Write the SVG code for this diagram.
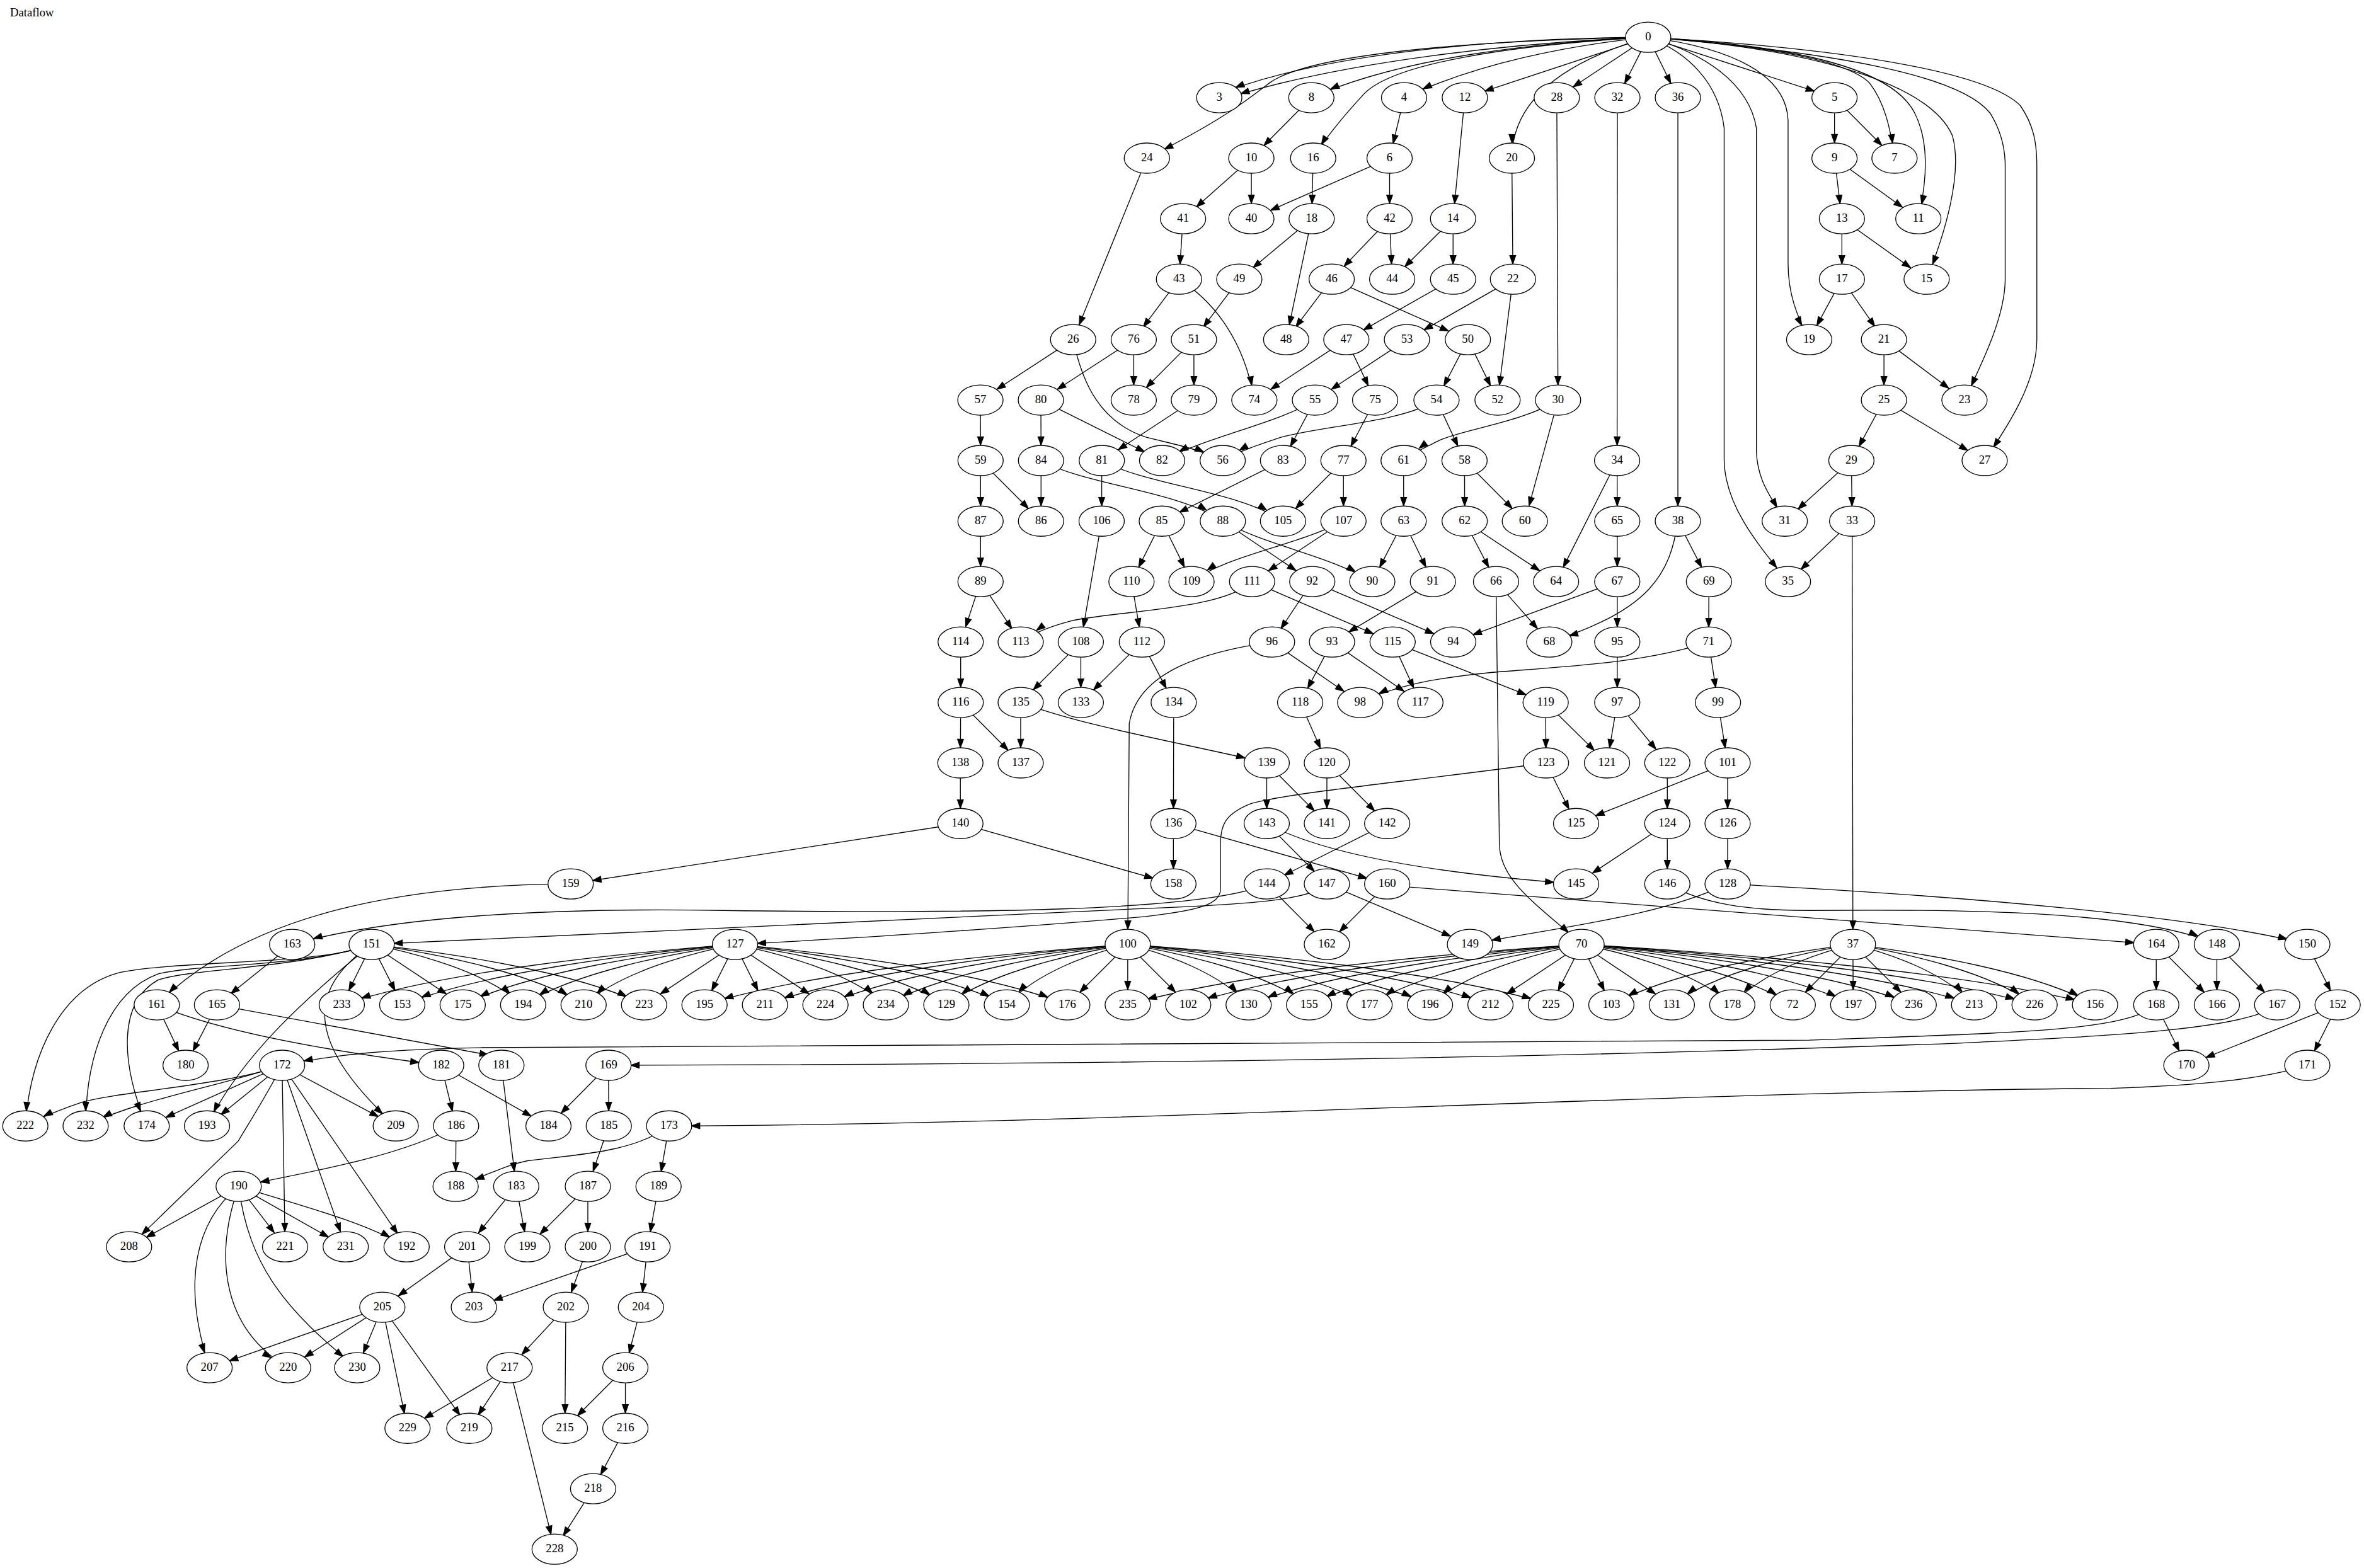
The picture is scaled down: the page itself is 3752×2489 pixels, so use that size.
<svg xmlns="http://www.w3.org/2000/svg" width="3752" height="2489" viewBox="0 0 3752 2489">
<style>
.e path{fill:none;stroke:#000;stroke-width:.557}
marker path{fill:#000;stroke:#000;stroke-width:.557}
.n ellipse{fill:#fff;stroke:#000;stroke-width:.557}
text{font-family:"Liberation Serif","Times New Roman",serif;font-size:7.8px;fill:#000}
.n text{text-anchor:middle}
.a0{marker-end:url(#a0)}.a1{marker-end:url(#a1)}.a2{marker-end:url(#a2)}.a3{marker-end:url(#a3)}.a4{marker-end:url(#a4)}.a5{marker-end:url(#a5)}
</style>
<defs>
<marker id="a0" markerUnits="userSpaceOnUse" viewBox="-24 -4 24 8" markerWidth="24" markerHeight="8" orient="auto"><path d="M-10.1,0L-15.67,-1.95L-15.67,1.95Z"/></marker>
<marker id="a1" markerUnits="userSpaceOnUse" viewBox="-24 -4 24 8" markerWidth="24" markerHeight="8" orient="auto"><path d="M-10.7,0L-16.27,-1.95L-16.27,1.95Z"/></marker>
<marker id="a2" markerUnits="userSpaceOnUse" viewBox="-24 -4 24 8" markerWidth="24" markerHeight="8" orient="auto"><path d="M-11.9,0L-17.47,-1.95L-17.47,1.95Z"/></marker>
<marker id="a3" markerUnits="userSpaceOnUse" viewBox="-24 -4 24 8" markerWidth="24" markerHeight="8" orient="auto"><path d="M-13.1,0L-18.67,-1.95L-18.67,1.95Z"/></marker>
<marker id="a4" markerUnits="userSpaceOnUse" viewBox="-24 -4 24 8" markerWidth="24" markerHeight="8" orient="auto"><path d="M-14,0L-19.57,-1.95L-19.57,1.95Z"/></marker>
<marker id="a5" markerUnits="userSpaceOnUse" viewBox="-24 -4 24 8" markerWidth="24" markerHeight="8" orient="auto"><path d="M-14.8,0L-20.37,-1.95L-20.37,1.95Z"/></marker>
</defs>
<rect width="3752" height="2489" fill="#fff"/>
<g transform="scale(2.39286)">
<text id="title" x="6.7" y="10.9">Dataflow</text>
<g id="edges" class="e">
<path class="a4" d="M1093.2,24.7C1010,25 880,33 806.7,63.3"/>
<path class="a4" d="M1093.2,24.7C1010,28 890,40 809.7,66.5"/>
<path class="a3" d="M1093.2,24.7C980,27 870,35 842,55C825,68 810,80 760.7,104.9"/>
<path class="a4" d="M1093.2,24.7C1020,28 930,38 869.8,64.8"/>
<path class="a1" d="M1093.2,24.7C1000,30 925,42 905,62C892,76 880,90 871,104.9"/>
<path class="a4" d="M1093.2,24.7C1040,30 980,42 931.3,64.8"/>
<path class="a4" d="M1093.2,24.7L971.6,64.8"/>
<path class="a0" d="M1093.2,24.7C1040,40 1003,65 1002.8,104.9"/>
<path class="a3" d="M1093.2,24.7L1032.6,64.8"/>
<path class="a1" d="M1093.2,24.7L1072.8,64.8"/>
<path class="a1" d="M1093.2,24.7L1112.9,64.8"/>
<path class="a4" d="M1093.2,24.7L1216.8,64.8"/>
<path class="a0" d="M1093.2,24.7C1170,30 1225,40 1240,55C1250,68 1254,85 1256.6,104.9"/>
<path class="a0" d="M1093.2,24.7C1190,30 1255,45 1270,75C1280,95 1278,120 1272.4,145.1"/>
<path class="a1" d="M1093.2,24.7C1200,32 1280,55 1295,90C1302,115 1290,155 1277.9,185.2"/>
<path class="a1" d="M1093.2,24.7C1150,32 1185,50 1186,80L1186,175C1186,195 1192,210 1200,225.3"/>
<path class="a1" d="M1093.2,24.7C1220,35 1300,50 1320,75C1328,88 1330,100 1330,110L1330,185C1330,210 1315,240 1303,265.4"/>
<path class="a1" d="M1093.2,24.7C1240,33 1320,50 1340,70C1349,83 1351,95 1351,110L1351,225C1351,255 1330,285 1316.4,305.5"/>
<path class="a1" d="M1093.2,24.7C1130,35 1160,55 1165,85L1165,300C1166,320 1175,330 1183.8,345.7"/>
<path class="a2" d="M1093.2,24.7C1120,35 1140,55 1143.6,85L1143.6,305C1144,335 1165,360 1185.9,385.8"/>
<path class="a2" d="M869.8,64.8L830,104.9"/>
<path class="a0" d="M931.3,64.8L921.7,104.9"/>
<path class="a0" d="M971.6,64.8L963.8,145.1"/>
<path class="a0" d="M1032.6,64.8L1033.4,265.4"/>
<path class="a0" d="M1072.8,64.8L1072.6,305.5"/>
<path class="a0" d="M1112.9,64.8L1112.9,345.7"/>
<path class="a0" d="M1216.8,64.8L1216.8,104.9"/>
<path class="a2" d="M1216.8,64.8L1256.6,104.9"/>
<path class="a1" d="M760.7,104.9L711.8,225.3"/>
<path class="a2" d="M830,104.9L784.7,145.1"/>
<path class="a0" d="M830,104.9L830,145.1"/>
<path class="a0" d="M871,104.9L870,145.1"/>
<path class="a4" d="M921.7,104.9L830,145.1"/>
<path class="a0" d="M921.7,104.9L921.7,145.1"/>
<path class="a0" d="M1002.8,104.9L1003.5,185.2"/>
<path class="a0" d="M1216.8,104.9L1221.7,145.1"/>
<path class="a3" d="M1216.8,104.9L1272.4,145.1"/>
<path class="a0" d="M784.7,145.1L782,185.2"/>
<path class="a2" d="M870,145.1L822,185.2"/>
<path class="a0" d="M870,145.1L853.1,225.3"/>
<path class="a2" d="M921.7,145.1L883.3,185.2"/>
<path class="a0" d="M921.7,145.1L923.4,185.2"/>
<path class="a2" d="M963.8,145.1L923.4,185.2"/>
<path class="a0" d="M963.8,145.1L963.8,185.2"/>
<path class="a0" d="M1221.7,145.1L1221.7,185.2"/>
<path class="a3" d="M1221.7,145.1L1277.9,185.2"/>
<path class="a1" d="M782,185.2L752,225.3"/>
<path class="a0" d="M782,185.2C805,200 825,225 832,265.4"/>
<path class="a1" d="M822,185.2L791.9,225.3"/>
<path class="a1" d="M883.3,185.2L853.1,225.3"/>
<path class="a4" d="M883.3,185.2L973.6,225.3"/>
<path class="a3" d="M963.8,185.2L893,225.3"/>
<path class="a3" d="M1003.5,185.2L933.2,225.3"/>
<path class="a0" d="M1003.5,185.2L993.3,265.4"/>
<path class="a1" d="M1221.7,185.2L1200,225.3"/>
<path class="a1" d="M1221.7,185.2L1249.6,225.3"/>
<path class="a3" d="M711.8,225.3L650.3,265.4"/>
<path class="a4" d="M711.8,225.3C718,255 730,280 760,290C775,294 790,296 811,305.5"/>
<path class="a3" d="M752,225.3L690.4,265.4"/>
<path class="a0" d="M752,225.3L752,265.4"/>
<path class="a2" d="M791.9,225.3L752,265.4"/>
<path class="a0" d="M791.9,225.3L791.9,265.4"/>
<path class="a3" d="M893,225.3L832,265.4"/>
<path class="a1" d="M893,225.3L912.1,265.4"/>
<path class="a3" d="M933.2,225.3L872.2,265.4"/>
<path class="a1" d="M973.6,225.3L952.8,265.4"/>
<path class="a1" d="M973.6,225.3L993.3,265.4"/>
<path class="a3" d="M1249.6,225.3L1303,265.4"/>
<path class="a0" d="M1249.6,225.3L1249.6,265.4"/>
<path class="a0" d="M650.3,265.4L650.4,305.5"/>
<path class="a0" d="M690.4,265.4L690.5,305.5"/>
<path class="a3" d="M690.4,265.4L770.8,305.5"/>
<path class="a3" d="M791.9,265.4L730.8,305.5"/>
<path class="a3" d="M872.2,265.4C850,280 800,290 770.8,305.5"/>
<path class="a1" d="M872.2,265.4L851,305.5"/>
<path class="a1" d="M912.1,265.4L891.1,305.5"/>
<path class="a3" d="M952.8,265.4C930,280 880,282 850,290C835,295 820,300 811,305.5"/>
<path class="a1" d="M952.8,265.4L971.4,305.5"/>
<path class="a3" d="M1033.4,265.4C1010,280 970,285 955,292C945,297 938,300 931,305.5"/>
<path class="a1" d="M1033.4,265.4L1011.4,345.7"/>
<path class="a3" d="M1249.6,265.4L1316.4,305.5"/>
<path class="a1" d="M1249.6,265.4L1228,305.5"/>
<path class="a0" d="M650.4,305.5L650.4,345.7"/>
<path class="a2" d="M650.4,305.5L690.5,345.7"/>
<path class="a0" d="M690.5,305.5L690.5,345.7"/>
<path class="a3" d="M690.5,305.5C720,322 780,325 811.1,345.7"/>
<path class="a0" d="M730.8,305.5L730.7,345.7"/>
<path class="a3" d="M730.8,305.5C760,322 820,325 851,345.7"/>
<path class="a3" d="M851,305.5L770.6,345.7"/>
<path class="a2" d="M891.1,305.5L851,345.7"/>
<path class="a0" d="M891.1,305.5L891.1,345.7"/>
<path class="a0" d="M931,305.5L931,345.7"/>
<path class="a0" d="M971.4,305.5L971.5,345.7"/>
<path class="a2" d="M971.4,305.5L1011.4,345.7"/>
<path class="a0" d="M1072.6,305.5L1072.7,345.7"/>
<path class="a1" d="M1072.6,305.5L1032.1,385.8"/>
<path class="a2" d="M1228,305.5L1183.8,345.7"/>
<path class="a0" d="M1228,305.5L1228.5,345.7"/>
<path class="a0" d="M650.4,345.7L650.4,385.8"/>
<path class="a0" d="M730.7,345.7L716.9,425.9"/>
<path class="a1" d="M770.6,345.7L750.5,385.8"/>
<path class="a1" d="M770.6,345.7L790.3,385.8"/>
<path class="a3" d="M811.1,345.7L870.4,385.8"/>
<path class="a3" d="M811.1,345.7C840,362 880,368 910.2,385.8"/>
<path class="a3" d="M891.1,345.7C860,362 815,368 790.3,385.8"/>
<path class="a3" d="M891.1,345.7L830.5,385.8"/>
<path class="a1" d="M931,345.7L910.2,385.8"/>
<path class="a1" d="M931,345.7L950.4,385.8"/>
<path class="a1" d="M971.5,345.7L992.3,385.8"/>
<path class="a3" d="M971.5,345.7L1032.1,385.8"/>
<path class="a0" d="M1072.7,345.7L1072.7,385.8"/>
<path class="a1" d="M1112.9,345.7L1133.5,385.8"/>
<path class="a4" d="M1112.9,345.7C1108,380 1095,405 1027.6,425.9"/>
<path class="a2" d="M1228.5,345.7L1185.9,385.8"/>
<path class="a0" d="M1228.5,345.7L1229,626.5"/>
<path class="a1" d="M650.4,385.8L637.2,425.9"/>
<path class="a1" d="M650.4,385.8L677,425.9"/>
<path class="a0" d="M750.5,385.8L757.4,425.9"/>
<path class="a3" d="M830.5,385.8C810,405 740,405 710,412C695,416 685,420 677,425.9"/>
<path class="a4" d="M830.5,385.8L923.7,425.9"/>
<path class="a1" d="M870.4,385.8L843.7,425.9"/>
<path class="a4" d="M870.4,385.8L963.9,425.9"/>
<path class="a3" d="M950.4,385.8L883.5,425.9"/>
<path class="a2" d="M992.3,385.8L1027.6,425.9"/>
<path class="a2" d="M992.3,385.8L994.5,560C995,585 1020,600 1049,626.5"/>
<path class="a4" d="M1072.7,385.8L963.9,425.9"/>
<path class="a0" d="M1072.7,385.8L1072.7,425.9"/>
<path class="a0" d="M1133.5,385.8L1133.3,425.9"/>
<path class="a0" d="M637.2,425.9L637.2,466"/>
<path class="a2" d="M716.9,425.9L677,466"/>
<path class="a0" d="M716.9,425.9L716.9,466"/>
<path class="a2" d="M757.4,425.9L716.9,466"/>
<path class="a1" d="M757.4,425.9L778.5,466"/>
<path class="a3" d="M843.7,425.9L902.2,466"/>
<path class="a0" d="M843.7,425.9C800,432 755,445 749,480L748,626.5"/>
<path class="a1" d="M883.5,425.9L862.4,466"/>
<path class="a3" d="M883.5,425.9L942.1,466"/>
<path class="a1" d="M923.7,425.9L942.1,466"/>
<path class="a4" d="M923.7,425.9L1025.2,466"/>
<path class="a0" d="M1072.7,425.9L1072.7,466"/>
<path class="a4" d="M1133.3,425.9C1090,440 1040,442 990,446C950,450 925,455 902.2,466"/>
<path class="a0" d="M1133.3,425.9L1139.5,466"/>
<path class="a0" d="M637.2,466L637,506.1"/>
<path class="a2" d="M637.2,466L677,506.1"/>
<path class="a0" d="M677,466L677,506.1"/>
<path class="a5" d="M677,466C720,482 780,492 840.2,506.1"/>
<path class="a0" d="M778.5,466L778.3,546.3"/>
<path class="a1" d="M862.4,466L880.1,506.1"/>
<path class="a0" d="M1025.2,466L1025.4,506.1"/>
<path class="a2" d="M1025.2,466L1065.9,506.1"/>
<path class="a0" d="M1072.7,466L1065.9,506.1"/>
<path class="a2" d="M1072.7,466L1105.9,506.1"/>
<path class="a0" d="M1139.5,466L1145.9,506.1"/>
<path class="a0" d="M637,506.1L637,546.3"/>
<path class="a0" d="M840.2,506.1L840.2,546.3"/>
<path class="a2" d="M840.2,506.1L880.1,546.3"/>
<path class="a0" d="M880.1,506.1L880.1,546.3"/>
<path class="a2" d="M880.1,506.1L920.1,546.3"/>
<path class="a1" d="M1025.4,506.1L1045.4,546.3"/>
<path class="a5" d="M1025.4,506.1C940,518 860,525 830,533C812,540 809.5,548 809.5,560L809.5,590C809.5,600 795,604 760,608C680,615 560,623 487.5,626.5"/>
<path class="a0" d="M1105.9,506.1L1105.9,546.3"/>
<path class="a4" d="M1145.9,506.1L1045.4,546.3"/>
<path class="a0" d="M1145.9,506.1L1145.9,546.3"/>
<path class="a5" d="M637,546.3L378.5,586.4"/>
<path class="a4" d="M637,546.3L778.3,586.4"/>
<path class="a0" d="M778.3,546.3L778.3,586.4"/>
<path class="a4" d="M778.3,546.3L920.1,586.4"/>
<path class="a2" d="M840.2,546.3L880.1,586.4"/>
<path class="a5" d="M840.2,546.3C880,568 960,580 1045.4,586.4"/>
<path class="a3" d="M920.1,546.3L840.2,586.4"/>
<path class="a3" d="M1105.9,546.3L1045.4,586.4"/>
<path class="a0" d="M1105.9,546.3L1105.9,586.4"/>
<path class="a0" d="M1145.9,546.3L1145.9,586.4"/>
<path class="a2" d="M378.5,586.4C270,587 165,605 104,666.6"/>
<path class="a5" d="M840.2,586.4C800,605 640,606 480,604C360,602 260,608 193.8,626.5"/>
<path class="a2" d="M840.2,586.4L880.1,626.5"/>
<path class="a4" d="M880.1,586.4L975,626.5"/>
<path class="a5" d="M880.1,586.4C870,597 830,600 752,603L246.5,626.5"/>
<path class="a2" d="M920.1,586.4L880.1,626.5"/>
<path class="a5" d="M920.1,586.4L935,588.5L1430.2,626.5"/>
<path class="a4" d="M1105.9,586.4C1130,600 1160,604 1200,604C1300,603 1420,604 1470.4,626.5"/>
<path class="a5" d="M1145.9,586.4C1100,608 1040,614 975,626.5"/>
<path class="a4" d="M1145.9,586.4C1300,594 1460,608 1530.4,626.5"/>
<path class="a2" d="M193.8,626.5L143.9,666.6"/>
<path class="a1" d="M246.5,626.5L226.7,666.6"/>
<path class="a1" d="M246.5,626.5L266.8,666.6"/>
<path class="a3" d="M246.5,626.5L306.9,666.6"/>
<path class="a2" d="M246.5,626.5C276.7,632.5 321.9,644.6 347,666.6"/>
<path class="a3" d="M246.5,626.5C288.7,632.5 351.9,644.6 387.1,666.6"/>
<path class="a3" d="M246.5,626.5C300.7,632.5 382,644.6 427.2,666.6"/>
<path class="a0" d="M246.5,626.5C215,640 120,637 80,645C40,655 20,700 16.8,746.9"/>
<path class="a0" d="M246.5,626.5C200,642 135,639 105,646C72,658 57,700 56.8,746.9"/>
<path class="a1" d="M246.5,626.5C195,643 130,642 105,650C78,665 80,705 97.3,746.9"/>
<path class="a1" d="M246.5,626.5C205,660 160,700 137.3,746.9"/>
<path class="a2" d="M246.5,626.5C205,655 200,690 262.5,746.9"/>
<path class="a4" d="M487.5,626.5C409.3,632.5 291.9,644.6 226.7,666.6"/>
<path class="a4" d="M487.5,626.5C421.3,632.5 322,644.6 266.8,666.6"/>
<path class="a3" d="M487.5,626.5C433.3,632.5 352.1,644.6 306.9,666.6"/>
<path class="a3" d="M487.5,626.5C445.4,632.5 382.1,644.6 347,666.6"/>
<path class="a2" d="M487.5,626.5C457.4,632.5 412.2,644.6 387.1,666.6"/>
<path class="a3" d="M487.5,626.5L427.2,666.6"/>
<path class="a1" d="M487.5,626.5L467.3,666.6"/>
<path class="a1" d="M487.5,626.5L507.4,666.6"/>
<path class="a3" d="M487.5,626.5L547.5,666.6"/>
<path class="a2" d="M487.5,626.5C517.5,632.5 562.6,644.6 587.6,666.6"/>
<path class="a3" d="M487.5,626.5C529.6,632.5 592.7,644.6 627.7,666.6"/>
<path class="a3" d="M487.5,626.5C541.6,632.5 622.7,644.6 667.8,666.6"/>
<path class="a4" d="M487.5,626.5C553.6,632.5 652.8,644.6 707.9,666.6"/>
<path class="a4" d="M748,626.5C663.8,632.5 537.5,644.6 467.3,666.6"/>
<path class="a4" d="M748,626.5C675.8,632.5 567.6,644.6 507.4,666.6"/>
<path class="a4" d="M748,626.5C687.9,632.5 597.6,644.6 547.5,666.6"/>
<path class="a3" d="M748,626.5C699.9,632.5 627.7,644.6 587.6,666.6"/>
<path class="a3" d="M748,626.5C711.9,632.5 657.8,644.6 627.7,666.6"/>
<path class="a2" d="M748,626.5C723.9,632.5 687.9,644.6 667.8,666.6"/>
<path class="a2" d="M748,626.5L707.9,666.6"/>
<path class="a0" d="M748,626.5L748,666.6"/>
<path class="a2" d="M748,626.5L788.1,666.6"/>
<path class="a2" d="M748,626.5C772.1,632.5 808.2,644.6 828.2,666.6"/>
<path class="a3" d="M748,626.5C784.1,632.5 838.2,644.6 868.3,666.6"/>
<path class="a3" d="M748,626.5C796.1,632.5 868.3,644.6 908.4,666.6"/>
<path class="a4" d="M748,626.5C808.2,632.5 898.4,644.6 948.5,666.6"/>
<path class="a4" d="M748,626.5C820.2,632.5 928.5,644.6 988.6,666.6"/>
<path class="a4" d="M748,626.5C832.2,632.5 958.5,644.6 1028.7,666.6"/>
<path class="a4" d="M1049,626.5C958.7,632.5 823.3,644.6 748,666.6"/>
<path class="a4" d="M1049,626.5C970.7,632.5 853.3,644.6 788.1,666.6"/>
<path class="a4" d="M1049,626.5C982.8,632.5 883.4,644.6 828.2,666.6"/>
<path class="a3" d="M1049,626.5C994.8,632.5 913.5,644.6 868.3,666.6"/>
<path class="a3" d="M1049,626.5C1006.8,632.5 943.6,644.6 908.4,666.6"/>
<path class="a2" d="M1049,626.5C1018.9,632.5 973.6,644.6 948.5,666.6"/>
<path class="a3" d="M1049,626.5L988.6,666.6"/>
<path class="a1" d="M1049,626.5L1028.7,666.6"/>
<path class="a1" d="M1049,626.5L1068.8,666.6"/>
<path class="a3" d="M1049,626.5L1108.9,666.6"/>
<path class="a2" d="M1049,626.5C1079,632.5 1124,644.6 1149,666.6"/>
<path class="a3" d="M1049,626.5C1091,632.5 1154.1,644.6 1189.1,666.6"/>
<path class="a3" d="M1049,626.5C1103.1,632.5 1184.2,644.6 1229.2,666.6"/>
<path class="a4" d="M1049,626.5C1115.1,632.5 1214.2,644.6 1269.3,666.6"/>
<path class="a4" d="M1049,626.5C1127.1,632.5 1244.3,644.6 1309.4,666.6"/>
<path class="a4" d="M1049,626.5C1139.2,632.5 1274.4,644.6 1349.5,666.6"/>
<path class="a4" d="M1049,626.5C1151.2,632.5 1304.4,644.6 1389.6,666.6"/>
<path class="a3" d="M1229,626.5C1180.9,632.5 1108.9,644.6 1068.8,666.6"/>
<path class="a3" d="M1229,626.5C1193,632.5 1138.9,644.6 1108.9,666.6"/>
<path class="a2" d="M1229,626.5C1205,632.5 1169,644.6 1149,666.6"/>
<path class="a2" d="M1229,626.5L1189.1,666.6"/>
<path class="a0" d="M1229,626.5L1229.2,666.6"/>
<path class="a2" d="M1229,626.5L1269.3,666.6"/>
<path class="a2" d="M1229,626.5C1253.1,632.5 1289.3,644.6 1309.4,666.6"/>
<path class="a3" d="M1229,626.5C1265.2,632.5 1319.4,644.6 1349.5,666.6"/>
<path class="a3" d="M1229,626.5C1277.2,632.5 1349.5,644.6 1389.6,666.6"/>
<path class="a0" d="M1430.2,626.5L1430.2,666.6"/>
<path class="a2" d="M1430.2,626.5L1470.4,666.6"/>
<path class="a0" d="M1470.4,626.5L1470.4,666.6"/>
<path class="a2" d="M1470.4,626.5L1510.4,666.6"/>
<path class="a1" d="M1530.4,626.5L1550.5,666.6"/>
<path class="a1" d="M1430.2,666.6L1450.2,706.7"/>
<path class="a5" d="M1430.2,666.6C1410,684 1340,685 1200,690L320,695C260,696 225,699 187.1,706.7"/>
<path class="a5" d="M1510.4,666.6C1490,684 1380,688 1300,692C1000,703 700,706 403.6,706.7"/>
<path class="a4" d="M1550.5,666.6L1450.2,706.7"/>
<path class="a1" d="M1550.5,666.6L1530.4,706.7"/>
<path class="a5" d="M1530.4,706.7C1500,716 1460,720 1400,722C1100,724 750,746 443.8,746.9"/>
<path class="a1" d="M104,666.6L123.1,706.7"/>
<path class="a1" d="M143.9,666.6L123.1,706.7"/>
<path class="a5" d="M104,666.6C140,682 200,695 292.6,706.7"/>
<path class="a5" d="M143.9,666.6L338.4,702.5"/>
<path class="a4" d="M187.1,706.7C150,720 80,724 55,731C40,736 28,741 16.8,746.9"/>
<path class="a3" d="M187.1,706.7C140,722 90,730 56.8,746.9"/>
<path class="a4" d="M187.1,706.7L97.3,746.9"/>
<path class="a2" d="M187.1,706.7L137.3,746.9"/>
<path class="a3" d="M187.1,706.7L262.5,746.9"/>
<path class="a2" d="M187.1,706.7C175,730 165,745 158,757L85.6,827.1"/>
<path class="a0" d="M187.1,706.7L189.1,827.1"/>
<path class="a1" d="M187.1,706.7L229.3,827.1"/>
<path class="a1" d="M187.1,706.7L269.7,827.1"/>
<path class="a0" d="M292.6,706.7L302.5,746.9"/>
<path class="a3" d="M292.6,706.7L363.8,746.9"/>
<path class="a0" d="M332.6,706.7L342.4,787"/>
<path class="a2" d="M403.6,706.7L363.8,746.9"/>
<path class="a0" d="M403.6,706.7L403.8,746.9"/>
<path class="a0" d="M302.5,746.9L302.2,787"/>
<path class="a5" d="M302.5,746.9C270,765 220,775 158.3,787"/>
<path class="a4" d="M443.8,746.9C420,765 380,766 350,770C335,773 325,779 302.2,787"/>
<path class="a0" d="M443.8,746.9L436.8,787"/>
<path class="a1" d="M403.8,746.9L389.9,787"/>
<path class="a3" d="M158.3,787L85.6,827.1"/>
<path class="a2" d="M158.3,787L189.1,827.1"/>
<path class="a3" d="M158.3,787L229.3,827.1"/>
<path class="a3" d="M158.3,787C200,800 240,810 269.7,827.1"/>
<path class="a1" d="M158.3,787C130,810 120,850 139,907.3"/>
<path class="a3" d="M158.3,787C143,830 145,880 191.1,907.3"/>
<path class="a2" d="M158.3,787C165,840 190,870 236.9,907.3"/>
<path class="a2" d="M342.4,787L309.9,827.1"/>
<path class="a0" d="M342.4,787L349.8,827.1"/>
<path class="a2" d="M389.9,787L349.8,827.1"/>
<path class="a0" d="M389.9,787L389.9,827.1"/>
<path class="a0" d="M436.8,787L429.5,827.1"/>
<path class="a3" d="M309.9,827.1L253.6,867.2"/>
<path class="a0" d="M309.9,827.1L314.3,867.2"/>
<path class="a4" d="M429.5,827.1L314.3,867.2"/>
<path class="a0" d="M429.5,827.1L425.1,867.2"/>
<path class="a1" d="M389.9,827.1L375.3,867.2"/>
<path class="a4" d="M253.6,867.2L139,907.3"/>
<path class="a3" d="M253.6,867.2L191.1,907.3"/>
<path class="a1" d="M253.6,867.2L236.9,907.3"/>
<path class="a0" d="M253.6,867.2L270.3,947.5"/>
<path class="a1" d="M253.6,867.2L311.3,947.5"/>
<path class="a2" d="M375.3,867.2L338,907.3"/>
<path class="a0" d="M375.3,867.2L374.7,947.5"/>
<path class="a0" d="M425.1,867.2L414.8,907.3"/>
<path class="a3" d="M338,907.3L270.3,947.5"/>
<path class="a1" d="M338,907.3L311.3,947.5"/>
<path class="a0" d="M338,907.3L367.9,1027.7"/>
<path class="a2" d="M414.8,907.3L374.7,947.5"/>
<path class="a0" d="M414.8,907.3L414.8,947.5"/>
<path class="a1" d="M414.8,947.5L393.4,987.6"/>
<path class="a1" d="M393.4,987.6L367.9,1027.7"/>
</g>
<g id="nodes" class="n">
<g id="node0"><ellipse cx="1093.2" cy="24.7" rx="15.04" ry="10.03"/><text x="1093.2" y="26.8">0</text></g>
<g id="node3"><ellipse cx="808.7" cy="64.8" rx="15.04" ry="10.03"/><text x="808.7" y="66.9">3</text></g>
<g id="node8"><ellipse cx="869.8" cy="64.8" rx="15.04" ry="10.03"/><text x="869.8" y="66.9">8</text></g>
<g id="node4"><ellipse cx="931.3" cy="64.8" rx="15.04" ry="10.03"/><text x="931.3" y="66.9">4</text></g>
<g id="node12"><ellipse cx="971.6" cy="64.8" rx="15.04" ry="10.03"/><text x="971.6" y="66.9">12</text></g>
<g id="node28"><ellipse cx="1032.6" cy="64.8" rx="15.04" ry="10.03"/><text x="1032.6" y="66.9">28</text></g>
<g id="node32"><ellipse cx="1072.8" cy="64.8" rx="15.04" ry="10.03"/><text x="1072.8" y="66.9">32</text></g>
<g id="node36"><ellipse cx="1112.9" cy="64.8" rx="15.04" ry="10.03"/><text x="1112.9" y="66.9">36</text></g>
<g id="node5"><ellipse cx="1216.8" cy="64.8" rx="15.04" ry="10.03"/><text x="1216.8" y="66.9">5</text></g>
<g id="node24"><ellipse cx="760.7" cy="104.9" rx="15.04" ry="10.03"/><text x="760.7" y="107">24</text></g>
<g id="node10"><ellipse cx="830" cy="104.9" rx="15.04" ry="10.03"/><text x="830" y="107">10</text></g>
<g id="node16"><ellipse cx="871" cy="104.9" rx="15.04" ry="10.03"/><text x="871" y="107">16</text></g>
<g id="node6"><ellipse cx="921.7" cy="104.9" rx="15.04" ry="10.03"/><text x="921.7" y="107">6</text></g>
<g id="node20"><ellipse cx="1002.8" cy="104.9" rx="15.04" ry="10.03"/><text x="1002.8" y="107">20</text></g>
<g id="node9"><ellipse cx="1216.8" cy="104.9" rx="15.04" ry="10.03"/><text x="1216.8" y="107">9</text></g>
<g id="node7"><ellipse cx="1256.6" cy="104.9" rx="15.04" ry="10.03"/><text x="1256.6" y="107">7</text></g>
<g id="node41"><ellipse cx="784.7" cy="145.1" rx="15.04" ry="10.03"/><text x="784.7" y="147.2">41</text></g>
<g id="node40"><ellipse cx="830" cy="145.1" rx="15.04" ry="10.03"/><text x="830" y="147.2">40</text></g>
<g id="node18"><ellipse cx="870" cy="145.1" rx="15.04" ry="10.03"/><text x="870" y="147.2">18</text></g>
<g id="node42"><ellipse cx="921.7" cy="145.1" rx="15.04" ry="10.03"/><text x="921.7" y="147.2">42</text></g>
<g id="node14"><ellipse cx="963.8" cy="145.1" rx="15.04" ry="10.03"/><text x="963.8" y="147.2">14</text></g>
<g id="node13"><ellipse cx="1221.7" cy="145.1" rx="15.04" ry="10.03"/><text x="1221.7" y="147.2">13</text></g>
<g id="node11"><ellipse cx="1272.4" cy="145.1" rx="15.04" ry="10.03"/><text x="1272.4" y="147.2">11</text></g>
<g id="node43"><ellipse cx="782" cy="185.2" rx="15.04" ry="10.03"/><text x="782" y="187.3">43</text></g>
<g id="node49"><ellipse cx="822" cy="185.2" rx="15.04" ry="10.03"/><text x="822" y="187.3">49</text></g>
<g id="node46"><ellipse cx="883.3" cy="185.2" rx="15.04" ry="10.03"/><text x="883.3" y="187.3">46</text></g>
<g id="node44"><ellipse cx="923.4" cy="185.2" rx="15.04" ry="10.03"/><text x="923.4" y="187.3">44</text></g>
<g id="node45"><ellipse cx="963.8" cy="185.2" rx="15.04" ry="10.03"/><text x="963.8" y="187.3">45</text></g>
<g id="node22"><ellipse cx="1003.5" cy="185.2" rx="15.04" ry="10.03"/><text x="1003.5" y="187.3">22</text></g>
<g id="node17"><ellipse cx="1221.7" cy="185.2" rx="15.04" ry="10.03"/><text x="1221.7" y="187.3">17</text></g>
<g id="node15"><ellipse cx="1277.9" cy="185.2" rx="15.04" ry="10.03"/><text x="1277.9" y="187.3">15</text></g>
<g id="node26"><ellipse cx="711.8" cy="225.3" rx="15.04" ry="10.03"/><text x="711.8" y="227.4">26</text></g>
<g id="node76"><ellipse cx="752" cy="225.3" rx="15.04" ry="10.03"/><text x="752" y="227.4">76</text></g>
<g id="node51"><ellipse cx="791.9" cy="225.3" rx="15.04" ry="10.03"/><text x="791.9" y="227.4">51</text></g>
<g id="node48"><ellipse cx="853.1" cy="225.3" rx="15.04" ry="10.03"/><text x="853.1" y="227.4">48</text></g>
<g id="node47"><ellipse cx="893" cy="225.3" rx="15.04" ry="10.03"/><text x="893" y="227.4">47</text></g>
<g id="node53"><ellipse cx="933.2" cy="225.3" rx="15.04" ry="10.03"/><text x="933.2" y="227.4">53</text></g>
<g id="node50"><ellipse cx="973.6" cy="225.3" rx="15.04" ry="10.03"/><text x="973.6" y="227.4">50</text></g>
<g id="node19"><ellipse cx="1200" cy="225.3" rx="15.04" ry="10.03"/><text x="1200" y="227.4">19</text></g>
<g id="node21"><ellipse cx="1249.6" cy="225.3" rx="15.04" ry="10.03"/><text x="1249.6" y="227.4">21</text></g>
<g id="node57"><ellipse cx="650.3" cy="265.4" rx="15.04" ry="10.03"/><text x="650.3" y="267.5">57</text></g>
<g id="node80"><ellipse cx="690.4" cy="265.4" rx="15.04" ry="10.03"/><text x="690.4" y="267.5">80</text></g>
<g id="node78"><ellipse cx="752" cy="265.4" rx="15.04" ry="10.03"/><text x="752" y="267.5">78</text></g>
<g id="node79"><ellipse cx="791.9" cy="265.4" rx="15.04" ry="10.03"/><text x="791.9" y="267.5">79</text></g>
<g id="node74"><ellipse cx="832" cy="265.4" rx="15.04" ry="10.03"/><text x="832" y="267.5">74</text></g>
<g id="node55"><ellipse cx="872.2" cy="265.4" rx="15.04" ry="10.03"/><text x="872.2" y="267.5">55</text></g>
<g id="node75"><ellipse cx="912.1" cy="265.4" rx="15.04" ry="10.03"/><text x="912.1" y="267.5">75</text></g>
<g id="node54"><ellipse cx="952.8" cy="265.4" rx="15.04" ry="10.03"/><text x="952.8" y="267.5">54</text></g>
<g id="node52"><ellipse cx="993.3" cy="265.4" rx="15.04" ry="10.03"/><text x="993.3" y="267.5">52</text></g>
<g id="node30"><ellipse cx="1033.4" cy="265.4" rx="15.04" ry="10.03"/><text x="1033.4" y="267.5">30</text></g>
<g id="node25"><ellipse cx="1249.6" cy="265.4" rx="15.04" ry="10.03"/><text x="1249.6" y="267.5">25</text></g>
<g id="node23"><ellipse cx="1303" cy="265.4" rx="15.04" ry="10.03"/><text x="1303" y="267.5">23</text></g>
<g id="node59"><ellipse cx="650.4" cy="305.5" rx="15.04" ry="10.03"/><text x="650.4" y="307.6">59</text></g>
<g id="node84"><ellipse cx="690.5" cy="305.5" rx="15.04" ry="10.03"/><text x="690.5" y="307.6">84</text></g>
<g id="node81"><ellipse cx="730.8" cy="305.5" rx="15.04" ry="10.03"/><text x="730.8" y="307.6">81</text></g>
<g id="node82"><ellipse cx="770.8" cy="305.5" rx="15.04" ry="10.03"/><text x="770.8" y="307.6">82</text></g>
<g id="node56"><ellipse cx="811" cy="305.5" rx="15.04" ry="10.03"/><text x="811" y="307.6">56</text></g>
<g id="node83"><ellipse cx="851" cy="305.5" rx="15.04" ry="10.03"/><text x="851" y="307.6">83</text></g>
<g id="node77"><ellipse cx="891.1" cy="305.5" rx="15.04" ry="10.03"/><text x="891.1" y="307.6">77</text></g>
<g id="node61"><ellipse cx="931" cy="305.5" rx="15.04" ry="10.03"/><text x="931" y="307.6">61</text></g>
<g id="node58"><ellipse cx="971.4" cy="305.5" rx="15.04" ry="10.03"/><text x="971.4" y="307.6">58</text></g>
<g id="node34"><ellipse cx="1072.6" cy="305.5" rx="15.04" ry="10.03"/><text x="1072.6" y="307.6">34</text></g>
<g id="node29"><ellipse cx="1228" cy="305.5" rx="15.04" ry="10.03"/><text x="1228" y="307.6">29</text></g>
<g id="node27"><ellipse cx="1316.4" cy="305.5" rx="15.04" ry="10.03"/><text x="1316.4" y="307.6">27</text></g>
<g id="node87"><ellipse cx="650.4" cy="345.7" rx="15.04" ry="10.03"/><text x="650.4" y="347.8">87</text></g>
<g id="node86"><ellipse cx="690.5" cy="345.7" rx="15.04" ry="10.03"/><text x="690.5" y="347.8">86</text></g>
<g id="node106"><ellipse cx="730.7" cy="345.7" rx="15.04" ry="10.03"/><text x="730.7" y="347.8">106</text></g>
<g id="node85"><ellipse cx="770.6" cy="345.7" rx="15.04" ry="10.03"/><text x="770.6" y="347.8">85</text></g>
<g id="node88"><ellipse cx="811.1" cy="345.7" rx="15.04" ry="10.03"/><text x="811.1" y="347.8">88</text></g>
<g id="node105"><ellipse cx="851" cy="345.7" rx="15.04" ry="10.03"/><text x="851" y="347.8">105</text></g>
<g id="node107"><ellipse cx="891.1" cy="345.7" rx="15.04" ry="10.03"/><text x="891.1" y="347.8">107</text></g>
<g id="node63"><ellipse cx="931" cy="345.7" rx="15.04" ry="10.03"/><text x="931" y="347.8">63</text></g>
<g id="node62"><ellipse cx="971.5" cy="345.7" rx="15.04" ry="10.03"/><text x="971.5" y="347.8">62</text></g>
<g id="node60"><ellipse cx="1011.4" cy="345.7" rx="15.04" ry="10.03"/><text x="1011.4" y="347.8">60</text></g>
<g id="node65"><ellipse cx="1072.7" cy="345.7" rx="15.04" ry="10.03"/><text x="1072.7" y="347.8">65</text></g>
<g id="node38"><ellipse cx="1112.9" cy="345.7" rx="15.04" ry="10.03"/><text x="1112.9" y="347.8">38</text></g>
<g id="node31"><ellipse cx="1183.8" cy="345.7" rx="15.04" ry="10.03"/><text x="1183.8" y="347.8">31</text></g>
<g id="node33"><ellipse cx="1228.5" cy="345.7" rx="15.04" ry="10.03"/><text x="1228.5" y="347.8">33</text></g>
<g id="node89"><ellipse cx="650.4" cy="385.8" rx="15.04" ry="10.03"/><text x="650.4" y="387.9">89</text></g>
<g id="node110"><ellipse cx="750.5" cy="385.8" rx="15.04" ry="10.03"/><text x="750.5" y="387.9">110</text></g>
<g id="node109"><ellipse cx="790.3" cy="385.8" rx="15.04" ry="10.03"/><text x="790.3" y="387.9">109</text></g>
<g id="node111"><ellipse cx="830.5" cy="385.8" rx="15.04" ry="10.03"/><text x="830.5" y="387.9">111</text></g>
<g id="node92"><ellipse cx="870.4" cy="385.8" rx="15.04" ry="10.03"/><text x="870.4" y="387.9">92</text></g>
<g id="node90"><ellipse cx="910.2" cy="385.8" rx="15.04" ry="10.03"/><text x="910.2" y="387.9">90</text></g>
<g id="node91"><ellipse cx="950.4" cy="385.8" rx="15.04" ry="10.03"/><text x="950.4" y="387.9">91</text></g>
<g id="node66"><ellipse cx="992.3" cy="385.8" rx="15.04" ry="10.03"/><text x="992.3" y="387.9">66</text></g>
<g id="node64"><ellipse cx="1032.1" cy="385.8" rx="15.04" ry="10.03"/><text x="1032.1" y="387.9">64</text></g>
<g id="node67"><ellipse cx="1072.7" cy="385.8" rx="15.04" ry="10.03"/><text x="1072.7" y="387.9">67</text></g>
<g id="node69"><ellipse cx="1133.5" cy="385.8" rx="15.04" ry="10.03"/><text x="1133.5" y="387.9">69</text></g>
<g id="node35"><ellipse cx="1185.9" cy="385.8" rx="15.04" ry="10.03"/><text x="1185.9" y="387.9">35</text></g>
<g id="node114"><ellipse cx="637.2" cy="425.9" rx="15.04" ry="10.03"/><text x="637.2" y="428">114</text></g>
<g id="node113"><ellipse cx="677" cy="425.9" rx="15.04" ry="10.03"/><text x="677" y="428">113</text></g>
<g id="node108"><ellipse cx="716.9" cy="425.9" rx="15.04" ry="10.03"/><text x="716.9" y="428">108</text></g>
<g id="node112"><ellipse cx="757.4" cy="425.9" rx="15.04" ry="10.03"/><text x="757.4" y="428">112</text></g>
<g id="node96"><ellipse cx="843.7" cy="425.9" rx="15.04" ry="10.03"/><text x="843.7" y="428">96</text></g>
<g id="node93"><ellipse cx="883.5" cy="425.9" rx="15.04" ry="10.03"/><text x="883.5" y="428">93</text></g>
<g id="node115"><ellipse cx="923.7" cy="425.9" rx="15.04" ry="10.03"/><text x="923.7" y="428">115</text></g>
<g id="node94"><ellipse cx="963.9" cy="425.9" rx="15.04" ry="10.03"/><text x="963.9" y="428">94</text></g>
<g id="node68"><ellipse cx="1027.6" cy="425.9" rx="15.04" ry="10.03"/><text x="1027.6" y="428">68</text></g>
<g id="node95"><ellipse cx="1072.7" cy="425.9" rx="15.04" ry="10.03"/><text x="1072.7" y="428">95</text></g>
<g id="node71"><ellipse cx="1133.3" cy="425.9" rx="15.04" ry="10.03"/><text x="1133.3" y="428">71</text></g>
<g id="node116"><ellipse cx="637.2" cy="466" rx="15.04" ry="10.03"/><text x="637.2" y="468.1">116</text></g>
<g id="node135"><ellipse cx="677" cy="466" rx="15.04" ry="10.03"/><text x="677" y="468.1">135</text></g>
<g id="node133"><ellipse cx="716.9" cy="466" rx="15.04" ry="10.03"/><text x="716.9" y="468.1">133</text></g>
<g id="node134"><ellipse cx="778.5" cy="466" rx="15.04" ry="10.03"/><text x="778.5" y="468.1">134</text></g>
<g id="node118"><ellipse cx="862.4" cy="466" rx="15.04" ry="10.03"/><text x="862.4" y="468.1">118</text></g>
<g id="node98"><ellipse cx="902.2" cy="466" rx="15.04" ry="10.03"/><text x="902.2" y="468.1">98</text></g>
<g id="node117"><ellipse cx="942.1" cy="466" rx="15.04" ry="10.03"/><text x="942.1" y="468.1">117</text></g>
<g id="node119"><ellipse cx="1025.2" cy="466" rx="15.04" ry="10.03"/><text x="1025.2" y="468.1">119</text></g>
<g id="node97"><ellipse cx="1072.7" cy="466" rx="15.04" ry="10.03"/><text x="1072.7" y="468.1">97</text></g>
<g id="node99"><ellipse cx="1139.5" cy="466" rx="15.04" ry="10.03"/><text x="1139.5" y="468.1">99</text></g>
<g id="node138"><ellipse cx="637" cy="506.1" rx="15.04" ry="10.03"/><text x="637" y="508.2">138</text></g>
<g id="node137"><ellipse cx="677" cy="506.1" rx="15.04" ry="10.03"/><text x="677" y="508.2">137</text></g>
<g id="node139"><ellipse cx="840.2" cy="506.1" rx="15.04" ry="10.03"/><text x="840.2" y="508.2">139</text></g>
<g id="node120"><ellipse cx="880.1" cy="506.1" rx="15.04" ry="10.03"/><text x="880.1" y="508.2">120</text></g>
<g id="node123"><ellipse cx="1025.4" cy="506.1" rx="15.04" ry="10.03"/><text x="1025.4" y="508.2">123</text></g>
<g id="node121"><ellipse cx="1065.9" cy="506.1" rx="15.04" ry="10.03"/><text x="1065.9" y="508.2">121</text></g>
<g id="node122"><ellipse cx="1105.9" cy="506.1" rx="15.04" ry="10.03"/><text x="1105.9" y="508.2">122</text></g>
<g id="node101"><ellipse cx="1145.9" cy="506.1" rx="15.04" ry="10.03"/><text x="1145.9" y="508.2">101</text></g>
<g id="node140"><ellipse cx="637" cy="546.3" rx="15.04" ry="10.03"/><text x="637" y="548.4">140</text></g>
<g id="node136"><ellipse cx="778.3" cy="546.3" rx="15.04" ry="10.03"/><text x="778.3" y="548.4">136</text></g>
<g id="node143"><ellipse cx="840.2" cy="546.3" rx="15.04" ry="10.03"/><text x="840.2" y="548.4">143</text></g>
<g id="node141"><ellipse cx="880.1" cy="546.3" rx="15.04" ry="10.03"/><text x="880.1" y="548.4">141</text></g>
<g id="node142"><ellipse cx="920.1" cy="546.3" rx="15.04" ry="10.03"/><text x="920.1" y="548.4">142</text></g>
<g id="node125"><ellipse cx="1045.4" cy="546.3" rx="15.04" ry="10.03"/><text x="1045.4" y="548.4">125</text></g>
<g id="node124"><ellipse cx="1105.9" cy="546.3" rx="15.04" ry="10.03"/><text x="1105.9" y="548.4">124</text></g>
<g id="node126"><ellipse cx="1145.9" cy="546.3" rx="15.04" ry="10.03"/><text x="1145.9" y="548.4">126</text></g>
<g id="node159"><ellipse cx="378.5" cy="586.4" rx="15.04" ry="10.03"/><text x="378.5" y="588.5">159</text></g>
<g id="node158"><ellipse cx="778.3" cy="586.4" rx="15.04" ry="10.03"/><text x="778.3" y="588.5">158</text></g>
<g id="node144"><ellipse cx="840.2" cy="586.4" rx="15.04" ry="10.03"/><text x="840.2" y="588.5">144</text></g>
<g id="node147"><ellipse cx="880.1" cy="586.4" rx="15.04" ry="10.03"/><text x="880.1" y="588.5">147</text></g>
<g id="node160"><ellipse cx="920.1" cy="586.4" rx="15.04" ry="10.03"/><text x="920.1" y="588.5">160</text></g>
<g id="node145"><ellipse cx="1045.4" cy="586.4" rx="15.04" ry="10.03"/><text x="1045.4" y="588.5">145</text></g>
<g id="node146"><ellipse cx="1105.9" cy="586.4" rx="15.04" ry="10.03"/><text x="1105.9" y="588.5">146</text></g>
<g id="node128"><ellipse cx="1145.9" cy="586.4" rx="15.04" ry="10.03"/><text x="1145.9" y="588.5">128</text></g>
<g id="node163"><ellipse cx="193.8" cy="626.5" rx="15.04" ry="10.03"/><text x="193.8" y="628.6">163</text></g>
<g id="node151"><ellipse cx="246.5" cy="626.5" rx="15.04" ry="10.03"/><text x="246.5" y="628.6">151</text></g>
<g id="node127"><ellipse cx="487.5" cy="626.5" rx="15.04" ry="10.03"/><text x="487.5" y="628.6">127</text></g>
<g id="node100"><ellipse cx="748" cy="626.5" rx="15.04" ry="10.03"/><text x="748" y="628.6">100</text></g>
<g id="node162"><ellipse cx="880.1" cy="626.5" rx="15.04" ry="10.03"/><text x="880.1" y="628.6">162</text></g>
<g id="node149"><ellipse cx="975" cy="626.5" rx="15.04" ry="10.03"/><text x="975" y="628.6">149</text></g>
<g id="node70"><ellipse cx="1049" cy="626.5" rx="15.04" ry="10.03"/><text x="1049" y="628.6">70</text></g>
<g id="node37"><ellipse cx="1229" cy="626.5" rx="15.04" ry="10.03"/><text x="1229" y="628.6">37</text></g>
<g id="node164"><ellipse cx="1430.2" cy="626.5" rx="15.04" ry="10.03"/><text x="1430.2" y="628.6">164</text></g>
<g id="node148"><ellipse cx="1470.4" cy="626.5" rx="15.04" ry="10.03"/><text x="1470.4" y="628.6">148</text></g>
<g id="node150"><ellipse cx="1530.4" cy="626.5" rx="15.04" ry="10.03"/><text x="1530.4" y="628.6">150</text></g>
<g id="node161"><ellipse cx="104" cy="666.6" rx="15.04" ry="10.03"/><text x="104" y="668.7">161</text></g>
<g id="node165"><ellipse cx="143.9" cy="666.6" rx="15.04" ry="10.03"/><text x="143.9" y="668.7">165</text></g>
<g id="node233"><ellipse cx="226.7" cy="666.6" rx="15.04" ry="10.03"/><text x="226.7" y="668.7">233</text></g>
<g id="node153"><ellipse cx="266.8" cy="666.6" rx="15.04" ry="10.03"/><text x="266.8" y="668.7">153</text></g>
<g id="node175"><ellipse cx="306.9" cy="666.6" rx="15.04" ry="10.03"/><text x="306.9" y="668.7">175</text></g>
<g id="node194"><ellipse cx="347" cy="666.6" rx="15.04" ry="10.03"/><text x="347" y="668.7">194</text></g>
<g id="node210"><ellipse cx="387.1" cy="666.6" rx="15.04" ry="10.03"/><text x="387.1" y="668.7">210</text></g>
<g id="node223"><ellipse cx="427.2" cy="666.6" rx="15.04" ry="10.03"/><text x="427.2" y="668.7">223</text></g>
<g id="node195"><ellipse cx="467.3" cy="666.6" rx="15.04" ry="10.03"/><text x="467.3" y="668.7">195</text></g>
<g id="node211"><ellipse cx="507.4" cy="666.6" rx="15.04" ry="10.03"/><text x="507.4" y="668.7">211</text></g>
<g id="node224"><ellipse cx="547.5" cy="666.6" rx="15.04" ry="10.03"/><text x="547.5" y="668.7">224</text></g>
<g id="node234"><ellipse cx="587.6" cy="666.6" rx="15.04" ry="10.03"/><text x="587.6" y="668.7">234</text></g>
<g id="node129"><ellipse cx="627.7" cy="666.6" rx="15.04" ry="10.03"/><text x="627.7" y="668.7">129</text></g>
<g id="node154"><ellipse cx="667.8" cy="666.6" rx="15.04" ry="10.03"/><text x="667.8" y="668.7">154</text></g>
<g id="node176"><ellipse cx="707.9" cy="666.6" rx="15.04" ry="10.03"/><text x="707.9" y="668.7">176</text></g>
<g id="node235"><ellipse cx="748" cy="666.6" rx="15.04" ry="10.03"/><text x="748" y="668.7">235</text></g>
<g id="node102"><ellipse cx="788.1" cy="666.6" rx="15.04" ry="10.03"/><text x="788.1" y="668.7">102</text></g>
<g id="node130"><ellipse cx="828.2" cy="666.6" rx="15.04" ry="10.03"/><text x="828.2" y="668.7">130</text></g>
<g id="node155"><ellipse cx="868.3" cy="666.6" rx="15.04" ry="10.03"/><text x="868.3" y="668.7">155</text></g>
<g id="node177"><ellipse cx="908.4" cy="666.6" rx="15.04" ry="10.03"/><text x="908.4" y="668.7">177</text></g>
<g id="node196"><ellipse cx="948.5" cy="666.6" rx="15.04" ry="10.03"/><text x="948.5" y="668.7">196</text></g>
<g id="node212"><ellipse cx="988.6" cy="666.6" rx="15.04" ry="10.03"/><text x="988.6" y="668.7">212</text></g>
<g id="node225"><ellipse cx="1028.7" cy="666.6" rx="15.04" ry="10.03"/><text x="1028.7" y="668.7">225</text></g>
<g id="node103"><ellipse cx="1068.8" cy="666.6" rx="15.04" ry="10.03"/><text x="1068.8" y="668.7">103</text></g>
<g id="node131"><ellipse cx="1108.9" cy="666.6" rx="15.04" ry="10.03"/><text x="1108.9" y="668.7">131</text></g>
<g id="node178"><ellipse cx="1149" cy="666.6" rx="15.04" ry="10.03"/><text x="1149" y="668.7">178</text></g>
<g id="node72"><ellipse cx="1189.1" cy="666.6" rx="15.04" ry="10.03"/><text x="1189.1" y="668.7">72</text></g>
<g id="node197"><ellipse cx="1229.2" cy="666.6" rx="15.04" ry="10.03"/><text x="1229.2" y="668.7">197</text></g>
<g id="node236"><ellipse cx="1269.3" cy="666.6" rx="15.04" ry="10.03"/><text x="1269.3" y="668.7">236</text></g>
<g id="node213"><ellipse cx="1309.4" cy="666.6" rx="15.04" ry="10.03"/><text x="1309.4" y="668.7">213</text></g>
<g id="node226"><ellipse cx="1349.5" cy="666.6" rx="15.04" ry="10.03"/><text x="1349.5" y="668.7">226</text></g>
<g id="node156"><ellipse cx="1389.6" cy="666.6" rx="15.04" ry="10.03"/><text x="1389.6" y="668.7">156</text></g>
<g id="node168"><ellipse cx="1430.2" cy="666.6" rx="15.04" ry="10.03"/><text x="1430.2" y="668.7">168</text></g>
<g id="node166"><ellipse cx="1470.4" cy="666.6" rx="15.04" ry="10.03"/><text x="1470.4" y="668.7">166</text></g>
<g id="node167"><ellipse cx="1510.4" cy="666.6" rx="15.04" ry="10.03"/><text x="1510.4" y="668.7">167</text></g>
<g id="node152"><ellipse cx="1550.5" cy="666.6" rx="15.04" ry="10.03"/><text x="1550.5" y="668.7">152</text></g>
<g id="node180"><ellipse cx="123.1" cy="706.7" rx="15.04" ry="10.03"/><text x="123.1" y="708.8">180</text></g>
<g id="node172"><ellipse cx="187.1" cy="706.7" rx="15.04" ry="10.03"/><text x="187.1" y="708.8">172</text></g>
<g id="node182"><ellipse cx="292.6" cy="706.7" rx="15.04" ry="10.03"/><text x="292.6" y="708.8">182</text></g>
<g id="node181"><ellipse cx="332.6" cy="706.7" rx="15.04" ry="10.03"/><text x="332.6" y="708.8">181</text></g>
<g id="node169"><ellipse cx="403.6" cy="706.7" rx="15.04" ry="10.03"/><text x="403.6" y="708.8">169</text></g>
<g id="node170"><ellipse cx="1450.2" cy="706.7" rx="15.04" ry="10.03"/><text x="1450.2" y="708.8">170</text></g>
<g id="node171"><ellipse cx="1530.4" cy="706.7" rx="15.04" ry="10.03"/><text x="1530.4" y="708.8">171</text></g>
<g id="node222"><ellipse cx="16.8" cy="746.9" rx="15.04" ry="10.03"/><text x="16.8" y="749">222</text></g>
<g id="node232"><ellipse cx="56.8" cy="746.9" rx="15.04" ry="10.03"/><text x="56.8" y="749">232</text></g>
<g id="node174"><ellipse cx="97.3" cy="746.9" rx="15.04" ry="10.03"/><text x="97.3" y="749">174</text></g>
<g id="node193"><ellipse cx="137.3" cy="746.9" rx="15.04" ry="10.03"/><text x="137.3" y="749">193</text></g>
<g id="node209"><ellipse cx="262.5" cy="746.9" rx="15.04" ry="10.03"/><text x="262.5" y="749">209</text></g>
<g id="node186"><ellipse cx="302.5" cy="746.9" rx="15.04" ry="10.03"/><text x="302.5" y="749">186</text></g>
<g id="node184"><ellipse cx="363.8" cy="746.9" rx="15.04" ry="10.03"/><text x="363.8" y="749">184</text></g>
<g id="node185"><ellipse cx="403.8" cy="746.9" rx="15.04" ry="10.03"/><text x="403.8" y="749">185</text></g>
<g id="node173"><ellipse cx="443.8" cy="746.9" rx="15.04" ry="10.03"/><text x="443.8" y="749">173</text></g>
<g id="node190"><ellipse cx="158.3" cy="787" rx="15.04" ry="10.03"/><text x="158.3" y="789.1">190</text></g>
<g id="node188"><ellipse cx="302.2" cy="787" rx="15.04" ry="10.03"/><text x="302.2" y="789.1">188</text></g>
<g id="node183"><ellipse cx="342.4" cy="787" rx="15.04" ry="10.03"/><text x="342.4" y="789.1">183</text></g>
<g id="node187"><ellipse cx="389.9" cy="787" rx="15.04" ry="10.03"/><text x="389.9" y="789.1">187</text></g>
<g id="node189"><ellipse cx="436.8" cy="787" rx="15.04" ry="10.03"/><text x="436.8" y="789.1">189</text></g>
<g id="node208"><ellipse cx="85.6" cy="827.1" rx="15.04" ry="10.03"/><text x="85.6" y="829.2">208</text></g>
<g id="node221"><ellipse cx="189.1" cy="827.1" rx="15.04" ry="10.03"/><text x="189.1" y="829.2">221</text></g>
<g id="node231"><ellipse cx="229.3" cy="827.1" rx="15.04" ry="10.03"/><text x="229.3" y="829.2">231</text></g>
<g id="node192"><ellipse cx="269.7" cy="827.1" rx="15.04" ry="10.03"/><text x="269.7" y="829.2">192</text></g>
<g id="node201"><ellipse cx="309.9" cy="827.1" rx="15.04" ry="10.03"/><text x="309.9" y="829.2">201</text></g>
<g id="node199"><ellipse cx="349.8" cy="827.1" rx="15.04" ry="10.03"/><text x="349.8" y="829.2">199</text></g>
<g id="node200"><ellipse cx="389.9" cy="827.1" rx="15.04" ry="10.03"/><text x="389.9" y="829.2">200</text></g>
<g id="node191"><ellipse cx="429.5" cy="827.1" rx="15.04" ry="10.03"/><text x="429.5" y="829.2">191</text></g>
<g id="node205"><ellipse cx="253.6" cy="867.2" rx="15.04" ry="10.03"/><text x="253.6" y="869.3">205</text></g>
<g id="node203"><ellipse cx="314.3" cy="867.2" rx="15.04" ry="10.03"/><text x="314.3" y="869.3">203</text></g>
<g id="node202"><ellipse cx="375.3" cy="867.2" rx="15.04" ry="10.03"/><text x="375.3" y="869.3">202</text></g>
<g id="node204"><ellipse cx="425.1" cy="867.2" rx="15.04" ry="10.03"/><text x="425.1" y="869.3">204</text></g>
<g id="node207"><ellipse cx="139" cy="907.3" rx="15.04" ry="10.03"/><text x="139" y="909.4">207</text></g>
<g id="node220"><ellipse cx="191.1" cy="907.3" rx="15.04" ry="10.03"/><text x="191.1" y="909.4">220</text></g>
<g id="node230"><ellipse cx="236.9" cy="907.3" rx="15.04" ry="10.03"/><text x="236.9" y="909.4">230</text></g>
<g id="node217"><ellipse cx="338" cy="907.3" rx="15.04" ry="10.03"/><text x="338" y="909.4">217</text></g>
<g id="node206"><ellipse cx="414.8" cy="907.3" rx="15.04" ry="10.03"/><text x="414.8" y="909.4">206</text></g>
<g id="node229"><ellipse cx="270.3" cy="947.5" rx="15.04" ry="10.03"/><text x="270.3" y="949.6">229</text></g>
<g id="node219"><ellipse cx="311.3" cy="947.5" rx="15.04" ry="10.03"/><text x="311.3" y="949.6">219</text></g>
<g id="node215"><ellipse cx="374.7" cy="947.5" rx="15.04" ry="10.03"/><text x="374.7" y="949.6">215</text></g>
<g id="node216"><ellipse cx="414.8" cy="947.5" rx="15.04" ry="10.03"/><text x="414.8" y="949.6">216</text></g>
<g id="node218"><ellipse cx="393.4" cy="987.6" rx="15.04" ry="10.03"/><text x="393.4" y="989.7">218</text></g>
<g id="node228"><ellipse cx="367.9" cy="1027.7" rx="15.04" ry="10.03"/><text x="367.9" y="1029.8">228</text></g>
</g>
</g>
</svg>
